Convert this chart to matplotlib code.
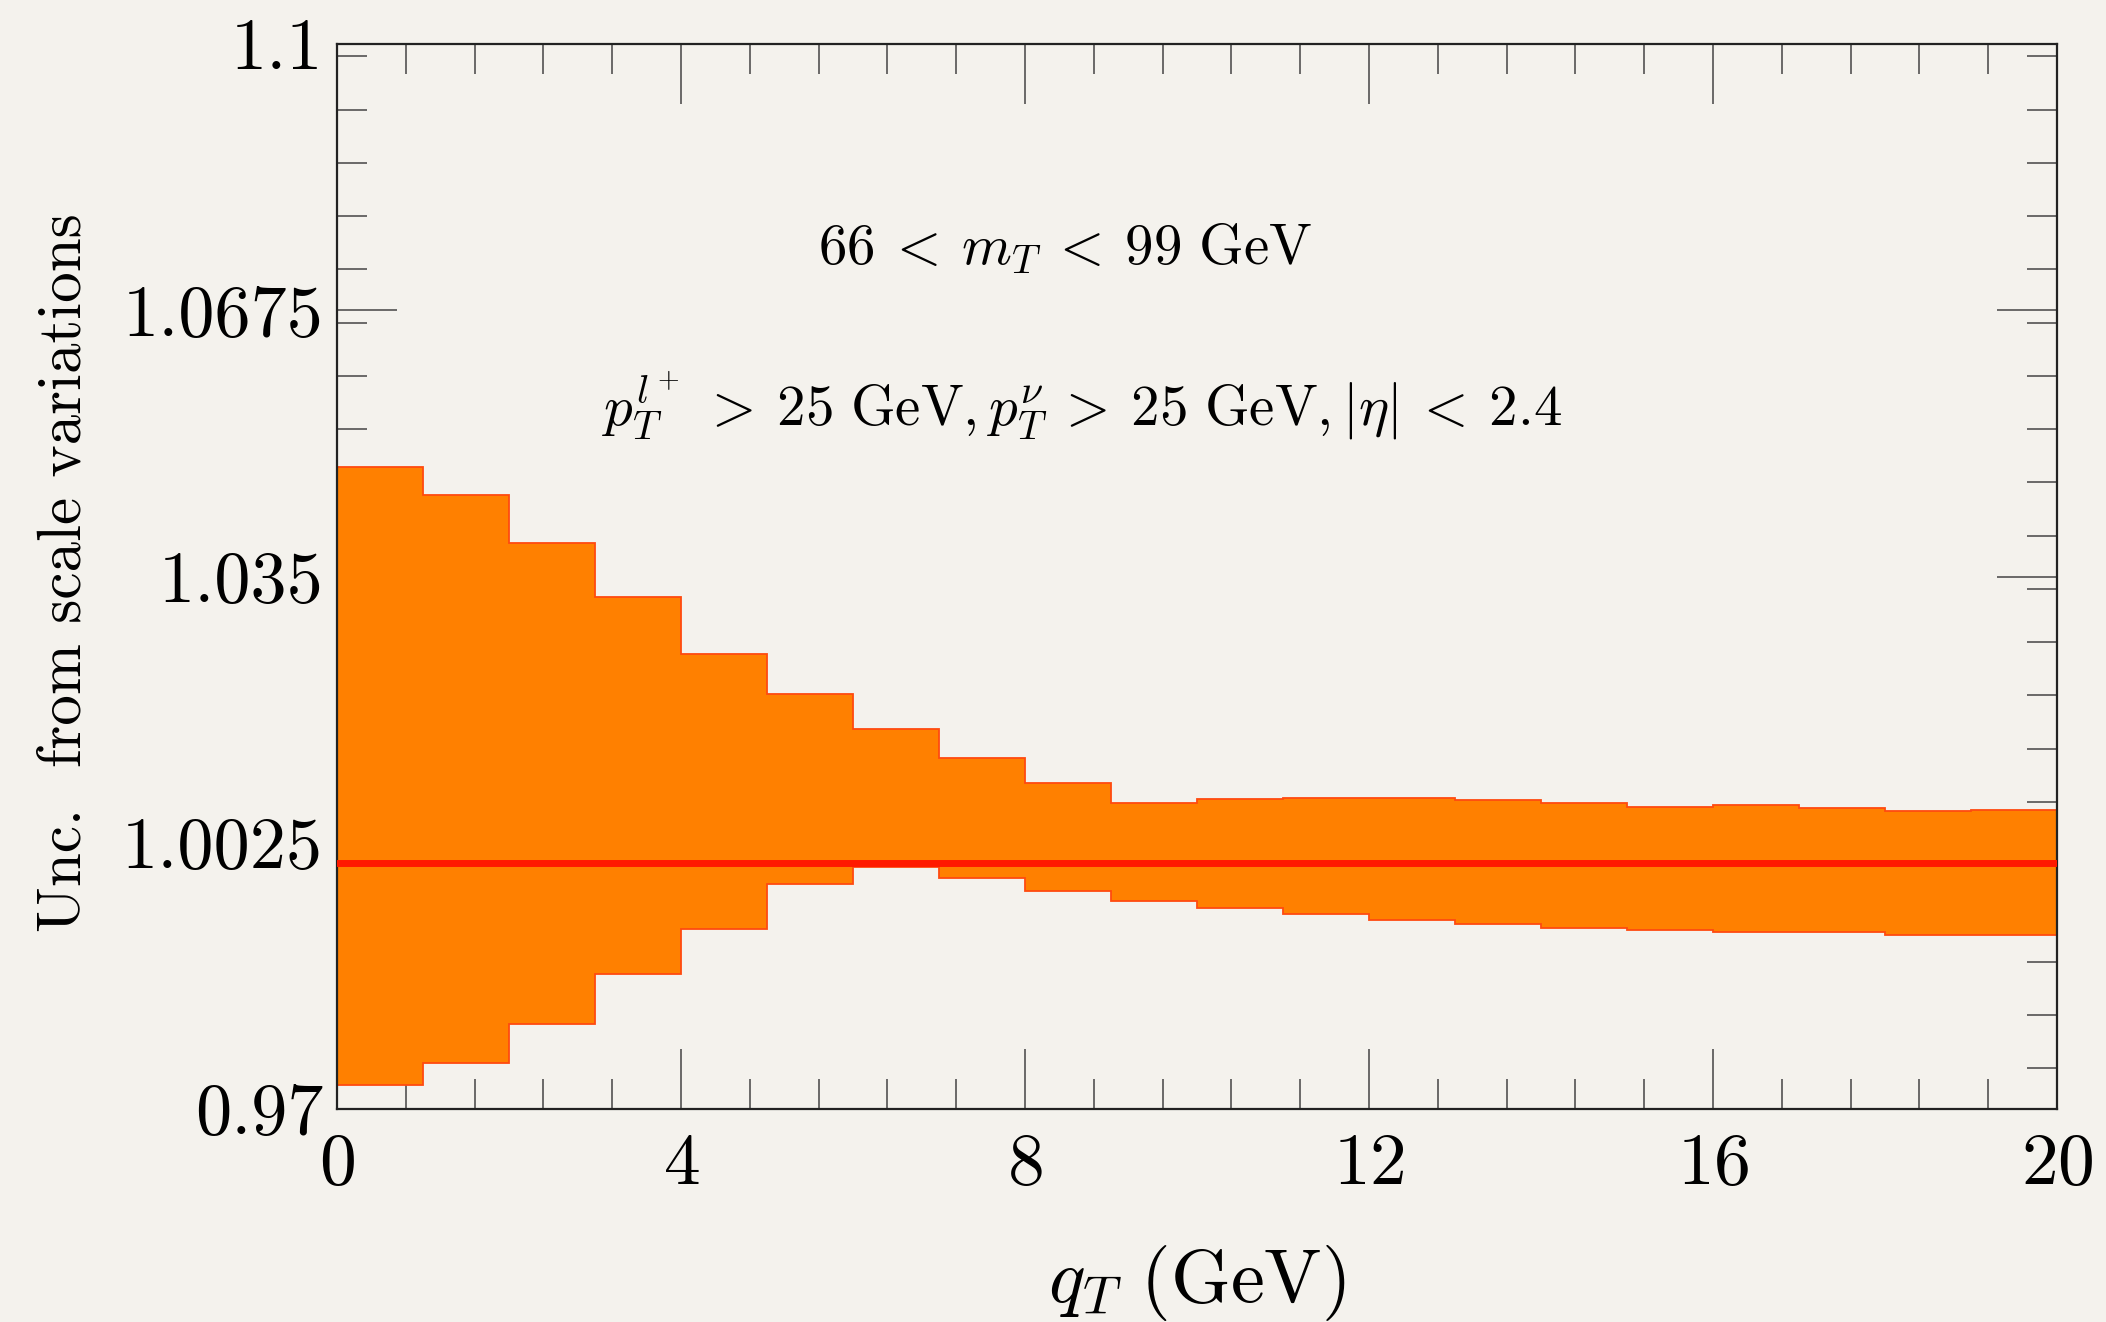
import numpy as np
import matplotlib
matplotlib.use("Agg")
import matplotlib.pyplot as plt
from matplotlib.ticker import FixedLocator, MultipleLocator

plt.rcParams['font.family'] = 'cmr10'
plt.rcParams['mathtext.fontset'] = 'cm'
plt.rcParams['axes.formatter.use_mathtext'] = True

# q_T bins (GeV) and scale-variation envelope
qt_edges = np.arange(0, 21, 1)
upper = [1.0484, 1.0450, 1.0391, 1.0325, 1.0256, 1.0207, 1.0164, 1.0129, 1.0098, 1.0074,
         1.0078, 1.0080, 1.0080, 1.0077, 1.0074, 1.0069, 1.0071, 1.0067, 1.0064, 1.0065]
lower = [0.9729, 0.9756, 0.9804, 0.9865, 0.9920, 0.9975, 0.9996, 0.9982, 0.9966, 0.9954,
         0.9945, 0.9938, 0.9931, 0.9926, 0.9921, 0.9918, 0.9916, 0.9916, 0.9913, 0.9912]
central = 1.0

yticks = [0.97, 1.0025, 1.035, 1.0675, 1.1]
ytick_labels = ["0.97", "1.0025", "1.035", "1.0675", "1.1"]
xticks = [0, 4, 8, 12, 16, 20]

bg = '#f4f2ed'
fig = plt.figure(figsize=(21.06, 13.22), dpi=100, facecolor=bg)
ax = fig.add_axes([0.160, 0.1611, 0.8167, 0.8056], facecolor=bg)

ax.stairs(upper, qt_edges, baseline=lower, fill=True,
          facecolor='#ff8000', edgecolor='#ff4a10', linewidth=1.3, zorder=2)
ax.axhline(central, color='#ff1a00', lw=5, zorder=3)

ax.set_xlim(0, 20)
ax.set_ylim(0.97, 1.1)
ax.xaxis.set_major_locator(FixedLocator(xticks))
ax.xaxis.set_minor_locator(MultipleLocator(0.8))
ax.yaxis.set_major_locator(FixedLocator(yticks))
ax.set_yticklabels(ytick_labels)
ax.yaxis.set_minor_locator(MultipleLocator(0.0065))

ax.tick_params(which='both', direction='in', top=True, right=True, color='#444444', width=1.1)
ax.tick_params(which='major', length=43)
ax.tick_params(which='minor', length=21.5)
ax.tick_params(axis='y', which='major', labelsize=52, pad=10)
ax.tick_params(axis='x', which='major', labelsize=53, pad=17)
for s in ax.spines.values():
    s.set_linewidth(1.6)
    s.set_color('#222222')

ax.set_xlabel(r'$q_T\ (\mathrm{GeV})$', fontsize=55)
ax.xaxis.label.set_va('center')
ax.xaxis.set_label_coords(0.5, -0.163)
ax.set_ylabel('Unc.  from scale variations', fontsize=44)
ax.yaxis.label.set_va('center')
ax.yaxis.set_label_coords(-0.158, 0.504)

ax.text(0.423, 0.808, r'$66 \:<\: m_T \:<\: 99\ \mathrm{GeV}$', transform=ax.transAxes,
        ha='center', va='center', fontsize=41)
ax.text(0.433, 0.66,
        r'$p_T^{l^+} \:>\: 25\ \mathrm{GeV}, p_T^{\nu} \:>\: 25\ \mathrm{GeV}, |\eta| \:<\: 2.4$',
        transform=ax.transAxes, ha='center', va='center', fontsize=41)

fig.savefig('out.png', dpi=100, facecolor=bg)
